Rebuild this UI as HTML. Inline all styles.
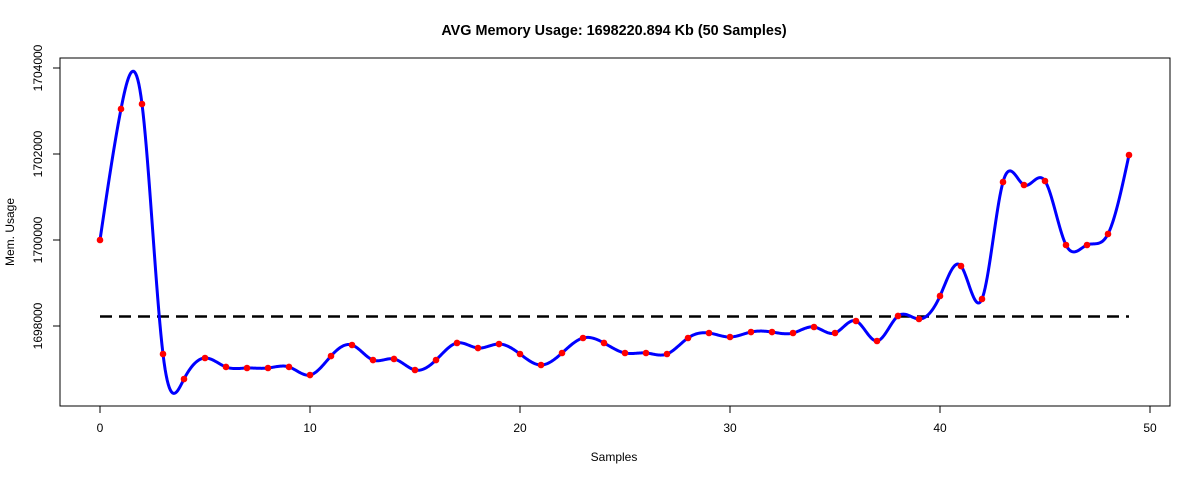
<!DOCTYPE html>
<html><head><meta charset="utf-8"><style>
html,body{margin:0;padding:0;background:#fff}
svg{display:block;font-family:"Liberation Sans",Arial,sans-serif}
</style></head><body>
<svg id="chart" width="1200" height="480">
<text x="614" y="35" text-anchor="middle" font-size="14.4" font-weight="bold">AVG Memory Usage: 1698220.894 Kb (50 Samples)</text>
<rect x="60" y="58" width="1110" height="348" fill="none" stroke="#000"/>
<text x="614" y="461" text-anchor="middle" font-size="12">Samples</text>
<text transform="translate(14,232) rotate(-90)" text-anchor="middle" font-size="12">Mem. Usage</text>
<g id="xaxis"></g>
<g id="yaxis"></g>
<g id="plot"></g>
</svg>
<script>
const samples = Array.from({length:50},(_,i)=>i);
const memValues = [1700000,1703047,1703163,1697349,1696767,1697256,1697047,1697023,1697023,1697047,
1696860,1697302,1697558,1697209,1697233,1696977,1697209,1697605,1697488,1697581,
1697349,1697093,1697372,1697721,1697605,1697372,1697372,1697349,1697721,1697837,
1697744,1697860,1697860,1697837,1697977,1697837,1698116,1697651,1698233,1698163,
1698698,1699395,1698628,1701349,1701279,1701372,1699884,1699884,1700140,1701977];
const meanValue = 1698220.894;
const xTicks = [0,10,20,30,40,50];
const yTicks = [1698000,1700000,1702000,1704000];

const NS="http://www.w3.org/2000/svg";
const sx = v => 100 + v*21;
const sy = v => 326 - (v-1698000)*0.043;
function mk(tag, attrs, parent){const e=document.createElementNS(NS,tag);for(const k in attrs)e.setAttribute(k,attrs[k]);parent.appendChild(e);return e;}
const xa=document.getElementById('xaxis'), ya=document.getElementById('yaxis'), pl=document.getElementById('plot');
mk('line',{x1:sx(xTicks[0]),x2:sx(xTicks[xTicks.length-1]),y1:406,y2:406,stroke:'#000'},xa);
xTicks.forEach(t=>{
  const l=mk('line',{x1:sx(t),x2:sx(t),y1:406,y2:413,stroke:'#000'},xa);
  
  
  const tx=mk('text',{x:sx(t),y:432,'text-anchor':'middle','font-size':12},xa);tx.textContent=t;
  
  
});
mk('line',{x1:60,x2:60,y1:sy(yTicks[0]),y2:sy(yTicks[yTicks.length-1]),stroke:'#000'},ya);
yTicks.forEach(t=>{
  const l=mk('line',{x1:53,x2:60,y1:sy(t),y2:sy(t),stroke:'#000'},ya);
  
  
  const tx=mk('text',{transform:`translate(42,${sy(t)}) rotate(-90)`,'text-anchor':'middle','font-size':12},ya);tx.textContent=t;
  
  
});
function spline(xs,ys){const n=xs.length,h=[],a=[],l=[1],mu=[0],z=[0],c=new Array(n).fill(0),b=[],d=[];
 for(let i=0;i<n-1;i++)h[i]=xs[i+1]-xs[i];
 for(let i=1;i<n-1;i++)a[i]=3/h[i]*(ys[i+1]-ys[i])-3/h[i-1]*(ys[i]-ys[i-1]);
 for(let i=1;i<n-1;i++){l[i]=2*(xs[i+1]-xs[i-1])-h[i-1]*mu[i-1];mu[i]=h[i]/l[i];z[i]=(a[i]-h[i-1]*z[i-1])/l[i];}
 l[n-1]=1;z[n-1]=0;
 for(let j=n-2;j>=0;j--){c[j]=z[j]-mu[j]*c[j+1];b[j]=(ys[j+1]-ys[j])/h[j]-h[j]*(c[j+1]+2*c[j])/3;d[j]=(c[j+1]-c[j])/(3*h[j]);}
 return x=>{let i=Math.min(n-2,Math.max(0,Math.floor(x-xs[0])));const dx=x-xs[i];return ys[i]+b[i]*dx+c[i]*dx*dx+d[i]*dx*dx*dx;};}
const f=spline(samples,memValues);
let dstr='';
for(let x=samples[0];x<=samples[samples.length-1]+1e-9;x+=0.05){dstr+=(dstr?'L':'M')+sx(x).toFixed(2)+','+sy(f(x)).toFixed(2);}
const ml=mk('line',{x1:sx(0),x2:sx(49),y1:sy(meanValue),y2:sy(meanValue),stroke:'#000','stroke-width':2.5,'stroke-dasharray':'12,7'},pl);


const p=mk('path',{d:dstr,fill:'none',stroke:'#0000ff','stroke-width':3},pl);


samples.forEach((s,i)=>{
  const c=mk('circle',{cx:sx(s),cy:sy(memValues[i]),r:3.3,fill:'#ff0000'},pl);
  
  
});
</script>
</body></html>
